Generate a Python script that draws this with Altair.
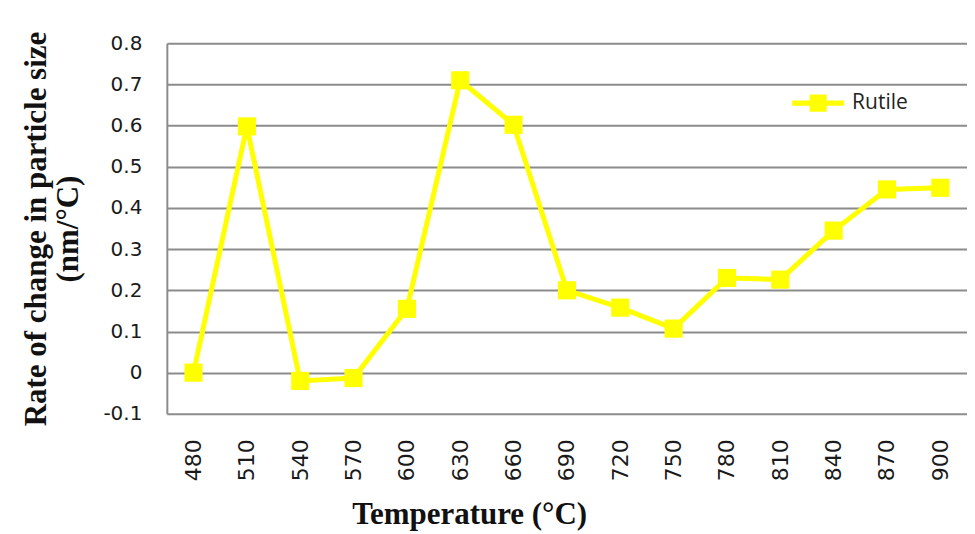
import altair as alt
import pandas as pd

temperatures = ["480", "510", "540", "570", "600", "630", "660", "690", "720",
                "750", "780", "810", "840", "870", "900"]
rates = [0.0, 0.598, -0.02, -0.013, 0.155, 0.71, 0.602, 0.20, 0.158,
         0.107, 0.23, 0.226, 0.345, 0.445, 0.449]
series_name = "Rutile"

df = pd.DataFrame({"Temperature": temperatures, "Rate": rates,
                   "Series": [series_name] * len(temperatures)})

x_enc = alt.X("Temperature:N", sort=temperatures,
              scale=alt.Scale(paddingInner=0, paddingOuter=0.5),
              axis=alt.Axis(title="Temperature (°C)", labelAngle=-90,
                            labelAlign="right", labelBaseline="middle",
                            labelPadding=25, labelFont="DejaVu Sans",
                            labelFontSize=22, labelColor="#1a1a1a",
                            ticks=False, domain=False, grid=False,
                            titleFont="Liberation Serif", titleFontSize=31,
                            titleFontWeight="bold", titleColor="#111111",
                            titlePadding=19, titleAnchor="start", titleX=185))
y_enc = alt.Y("Rate:Q", scale=alt.Scale(domain=[-0.1, 0.8], nice=False, zero=False),
              axis=alt.Axis(title=["Rate of change in particle size", "(nm/°C)"],
                            values=[-0.1, 0, 0.1, 0.2, 0.3, 0.4, 0.5, 0.6, 0.7, 0.8],
                            labelExpr="datum.value == 0 ? '0' : replace(format(datum.value, '.1f'), '\u2212', '-')",
                            labelFont="DejaVu Sans", labelFontSize=20, labelColor="#1a1a1a",
                            labelPadding=25, ticks=False, domain=True,
                            domainColor="#8c8c8c", domainWidth=2,
                            grid=True, gridColor="#8c8c8c", gridWidth=2,
                            titleFont="Liberation Serif", titleFontSize=31,
                            titleFontWeight="bold", titleColor="#111111",
                            titlePadding=18, titleLineHeight=32))

color_scale = alt.Scale(domain=[series_name], range=["#FFFF00"])
legend_symbol = "M-1,-0.1H-0.33V-0.33H0.33V-0.1H1V0.1H0.33V0.33H-0.33V0.1H-1Z"

color_enc = alt.Color("Series:N", scale=color_scale,
                      legend=alt.Legend(title=None, orient="none", legendX=626, legendY=34,
                                        symbolType=legend_symbol, symbolSize=2704,
                                        symbolStrokeWidth=0, symbolFillColor="#FFFF00",
                                        labelFont="Open Sans", labelFontSize=21,
                                        labelColor="#222222", labelOffset=8))

base = alt.Chart(df).encode(x=x_enc, y=y_enc, color=color_enc)
line = base.mark_line(strokeWidth=5)
points = base.mark_point(shape="square", filled=True, size=330, opacity=1)

chart = alt.layer(line, points).properties(
    width=801, height=371,
    autosize=alt.AutoSizeParams(type="none"),
    padding={"left": 159, "top": 35, "right": 0, "bottom": 124},
    background="white",
).configure_view(stroke=None)

chart.save("out.html", embed_options={"renderer": "svg", "actions": False})
